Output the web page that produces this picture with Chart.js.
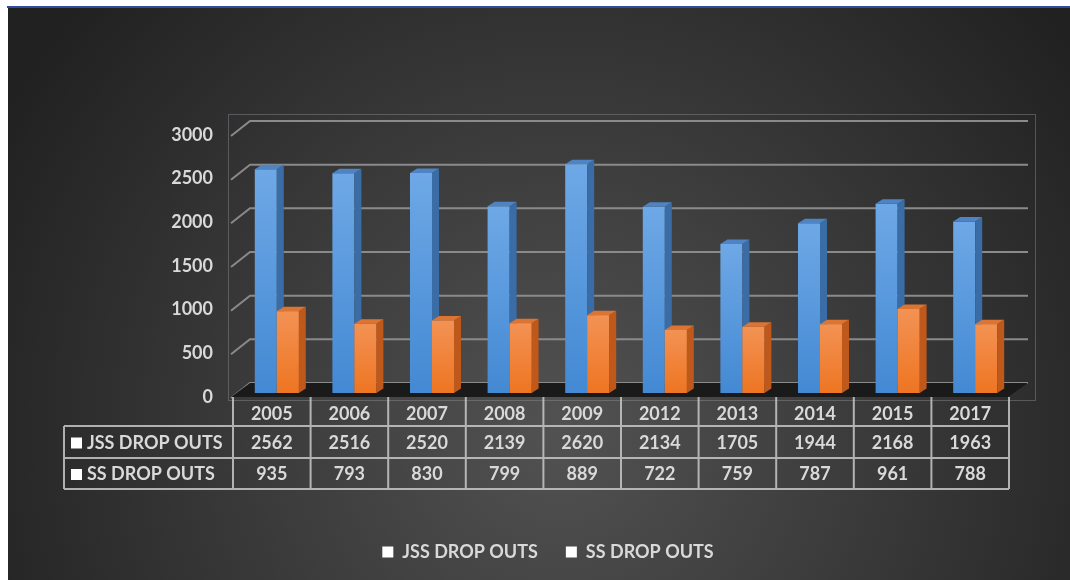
<!DOCTYPE html>
<html>
<head>
<meta charset="utf-8">
<script src="https://cdn.jsdelivr.net/npm/chart.js@4/dist/chart.umd.min.js"></script>
<style>
  html, body { margin: 0; padding: 0; background: #ffffff; }
  #wrap { width: 1070px; height: 580px; position: relative; }
  canvas { display: block; }
</style>
</head>
<body>
<div id="wrap"><canvas id="c" width="1070" height="580"></canvas></div>
<script>
// ---- data ----
const years = ['2005', '2006', '2007', '2008', '2009', '2012', '2013', '2014', '2015', '2017'];
const jssDropOuts = [2562, 2516, 2520, 2139, 2620, 2134, 1705, 1944, 2168, 1963];
const ssDropOuts = [935, 793, 830, 799, 889, 722, 759, 787, 961, 788];
const seriesNames = ['JSS DROP OUTS', 'SS DROP OUTS'];
const yMin = 0;
const yMax = 3000;
const yStep = 500;

// ---- styling ----
const FONT = 'Lato, "Open Sans", sans-serif';
const TEXT = '#d9d9d9';
const DEPTH_X = 7, DEPTH_Y = -4.5;       // bar depth
const WALL_X = 19, WALL_BACK = -10, WALL_FRONT = 5; // 3D wall offsets
const TABLE_SHIFT = -5;
const faces = [
  { top: '#4f84c4', side: '#3a6ca6', g0: '#6ea8e6', g1: '#4389d3' },
  { top: '#dc7533', side: '#bf581b', g0: '#f39254', g1: '#ee7522' }
];

function frontFill(idx) {
  return (c) => {
    const chart = c.chart;
    if (!chart.chartArea || c.raw === undefined) return faces[idx].g1;
    const ys = chart.scales.y;
    const top = ys.getPixelForValue(c.raw);
    const bot = ys.getPixelForValue(0);
    if (!isFinite(top) || !isFinite(bot) || top === bot) return faces[idx].g1;
    const g = chart.ctx.createLinearGradient(0, top, 0, bot);
    g.addColorStop(0, faces[idx].g0);
    g.addColorStop(1, faces[idx].g1);
    return g;
  };
}

function drawDepth(ctx, el, f) {
  const p = el.getProps(['x', 'y', 'base', 'width'], true);
  const l = p.x - p.width / 2, r = p.x + p.width / 2;
  const t = Math.min(p.y, p.base), b = Math.max(p.y, p.base);
  ctx.fillStyle = f.side;
  ctx.beginPath();
  ctx.moveTo(r, t);
  ctx.lineTo(r + DEPTH_X, t + DEPTH_Y);
  ctx.lineTo(r + DEPTH_X, b + DEPTH_Y);
  ctx.lineTo(r, b);
  ctx.closePath();
  ctx.fill();
  ctx.fillStyle = f.top;
  ctx.beginPath();
  ctx.moveTo(l, t);
  ctx.lineTo(l + DEPTH_X, t + DEPTH_Y);
  ctx.lineTo(r + DEPTH_X, t + DEPTH_Y);
  ctx.lineTo(r, t);
  ctx.closePath();
  ctx.fill();
}

const scene = {
  id: 'scene',
  beforeDraw(chart) {
    const ctx = chart.ctx;
    const W = chart.width, H = chart.height;
    const ys = chart.scales.y;
    const ca = chart.chartArea;
    ctx.save();
    ctx.fillStyle = '#ffffff';
    ctx.fillRect(0, 0, W, H);
    const rg = ctx.createRadialGradient(560, 430, 0, 560, 430, 640);
    rg.addColorStop(0, '#525252');
    rg.addColorStop(1, '#212121');
    ctx.fillStyle = rg;
    ctx.fillRect(8, 8, W - 8, H - 8);
    ctx.fillStyle = '#2f4d9a';
    ctx.fillRect(7, 6, W - 7, 2);

    // plot area outline
    ctx.strokeStyle = 'rgba(140,140,150,0.45)';
    ctx.lineWidth = 1;
    ctx.strokeRect(228.5, 114.5, 807, 286);

    // wall gridlines
    const frontX = ca.left - 7;
    const backX = frontX + WALL_X;
    const backRight = ca.right + 14;
    ctx.strokeStyle = '#8a8a8a';
    ctx.lineWidth = 2;
    for (let v = yMin; v <= yMax; v += yStep) {
      const py = ys.getPixelForValue(v);
      ctx.beginPath();
      ctx.moveTo(frontX, py + WALL_FRONT);
      ctx.lineTo(backX, py + WALL_BACK);
      ctx.lineTo(backRight, py + WALL_BACK);
      ctx.stroke();
    }
    // floor
    const y0 = ys.getPixelForValue(0);
    ctx.fillStyle = '#1a1a1a';
    ctx.beginPath();
    ctx.moveTo(frontX, y0 + WALL_FRONT - 1);
    ctx.lineTo(ca.right - 6, y0 + WALL_FRONT - 1);
    ctx.lineTo(backRight, y0 + WALL_BACK);
    ctx.lineTo(backX, y0 + WALL_BACK);
    ctx.closePath();
    ctx.fill();
    ctx.restore();
  },
  afterDatasetDraw(chart, args) {
    // blue (dataset 0) depth faces; orange handled after all datasets
    if (args.index !== 0) return;
    const ctx = chart.ctx;
    ctx.save();
    args.meta.data.forEach((el) => drawDepth(ctx, el, faces[0]));
    ctx.restore();
  },
  afterDatasetsDraw(chart) {
    // orange bars sit in front of blue side faces: redraw them on top
    const ctx = chart.ctx;
    const meta = chart.getDatasetMeta(1);
    ctx.save();
    meta.data.forEach((el) => {
      el.draw(ctx);
      drawDepth(ctx, el, faces[1]);
    });
    ctx.restore();
  },
  afterDraw(chart) {
    const ctx = chart.ctx;
    const xs = chart.scales.x;
    const ca = chart.chartArea;
    const n = years.length;
    const cw = (ca.right - ca.left) / n;
    const x0 = ca.left + TABLE_SHIFT;
    const xEnd = x0 + cw * n;
    const yTop = chart.scales.y.getPixelForValue(0) + WALL_FRONT - 1;
    const rowA = 426, rowB = 458, rowC = 489;
    const leftX = 64;
    ctx.save();
    ctx.strokeStyle = 'rgba(200,200,200,0.85)';
    ctx.lineWidth = 2;
    ctx.beginPath();
    [rowA, rowB, rowC].forEach((yy) => { ctx.moveTo(leftX, yy); ctx.lineTo(xEnd, yy); });
    ctx.moveTo(leftX, rowA); ctx.lineTo(leftX, rowC);
    for (let i = 0; i <= n; i++) {
      const xx = x0 + cw * i;
      ctx.moveTo(xx, yTop); ctx.lineTo(xx, rowC);
    }
    ctx.stroke();

    ctx.font = 'bold 18px ' + FONT;
    ctx.fillStyle = TEXT;
    ctx.textBaseline = 'middle';
    const rows = [jssDropOuts, ssDropOuts];
    const centers = [(rowA + rowB) / 2 + 1, (rowB + rowC) / 2 + 1];
    rows.forEach((vals, r) => {
      ctx.fillStyle = '#ffffff';
      ctx.fillRect(71, centers[r] - 5.5, 11, 11);
      ctx.fillStyle = TEXT;
      ctx.textAlign = 'left';
      ctx.fillText(seriesNames[r], 87, centers[r]);
      ctx.textAlign = 'center';
      vals.forEach((v, i) => {
        ctx.fillText(String(v), xs.getPixelForValue(i) + TABLE_SHIFT, centers[r]);
      });
    });
    ctx.restore();
  }
};

new Chart(document.getElementById('c'), {
  type: 'bar',
  data: {
    labels: years,
    datasets: [
      { label: seriesNames[0], data: jssDropOuts, backgroundColor: frontFill(0), borderWidth: 0 },
      { label: seriesNames[1], data: ssDropOuts, backgroundColor: frontFill(1), borderWidth: 0 }
    ]
  },
  options: {
    responsive: false,
    animation: false,
    events: [],
    datasets: { bar: { categoryPercentage: 0.567, barPercentage: 1 } },
    layout: { padding: { left: 82, right: 56, top: 131, bottom: 9 } },
    scales: {
      x: {
        grid: { display: false, drawTicks: false },
        border: { display: false },
        ticks: {
          color: TEXT, font: { family: FONT, size: 18, weight: 'bold' },
          padding: 10, labelOffset: TABLE_SHIFT, maxRotation: 0, autoSkip: false
        },
        afterFit(s) { s.height = 122; }
      },
      y: {
        min: yMin, max: yMax,
        grid: { display: false, drawTicks: false },
        border: { display: false },
        ticks: {
          stepSize: yStep, color: TEXT,
          font: { family: FONT, size: 18, weight: 'bold' },
          padding: 25, labelOffset: 4,
          callback: (v) => String(v)
        },
        afterFit(s) { s.width = 156; }
      }
    },
    plugins: {
      tooltip: { enabled: false },
      title: { display: false },
      legend: {
        position: 'bottom',
        labels: {
          color: TEXT,
          font: { family: FONT, size: 18, weight: 'bold' },
          boxWidth: 11, boxHeight: 11, padding: 28,
          generateLabels(chart) {
            return Chart.defaults.plugins.legend.labels.generateLabels(chart).map((l) =>
              Object.assign(l, { fillStyle: '#ffffff', strokeStyle: '#ffffff', lineWidth: 0 }));
          }
        }
      }
    }
  },
  plugins: [scene]
});
</script>
</body>
</html>
